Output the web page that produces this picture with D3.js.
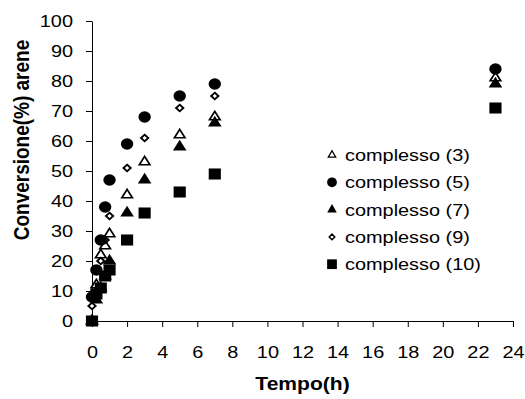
<!DOCTYPE html>
<html>
<head>
<meta charset="utf-8">
<script src="https://cdn.jsdelivr.net/npm/d3@7"></script>
<style>
  body { margin: 0; background: #fff; }
  svg { display: block; font-family: Arial, "Liberation Sans", sans-serif; }
</style>
</head>
<body>
<div id="chart"></div>
<script>
// Data
var times = [0, 0.25, 0.5, 0.75, 1, 2, 3, 5, 7, 23];
var c3  = [0, 12, 22, 25, 29, 42, 53, 62, 68, 81];
var c5  = [8, 17, 27, 38, 47, 59, 68, 75, 79, 84];
var c7  = [0, 7, 11, 15, 20, 36, 47, 58, 66, 79];
var c9  = [5, 10, 20, 27, 35, 51, 61, 71, 75, 84];
var c10 = [0, 9, 11, 15, 17, 27, 36, 43, 49, 71];
var seriesNames = ['complesso (3)', 'complesso (5)', 'complesso (7)', 'complesso (9)', 'complesso (10)'];
var xTicks = [0, 2, 4, 6, 8, 10, 12, 14, 16, 18, 20, 22, 24];
var yTicks = [0, 10, 20, 30, 40, 50, 60, 70, 80, 90, 100];

var width = 525,
    height = 399,
    margin = { left: 92, top: 21, right: 12, bottom: 78 },
    SX = 1.17; // the reference text is a bit stretched sideways

var chartWidth = width - margin.left - margin.right;
var chartHeight = height - margin.top - margin.bottom;

// marker styles per series
var markers = [
    { type: d3.symbolTriangle, size: 40, fill: '#fff', stroke: '#000', sw: 1.6, lsize: 24 },
    { type: d3.symbolCircle, size: 100, fill: '#000', stroke: 'none', sw: 0, lsize: 75 },
    { type: d3.symbolTriangle, size: 66, fill: '#000', stroke: 'none', sw: 0, lsize: 40 },
    { type: d3.symbolDiamond2, size: 28, fill: '#fff', stroke: '#000', sw: 1.8, lsize: 20 },
    { type: d3.symbolSquare, size: 122, fill: '#000', stroke: 'none', sw: 0, lsize: 95 }
];

var allSeries = [c3, c5, c7, c9, c10].map(function(vals, i) {
    return { name: seriesNames[i], m: markers[i], points: vals.map(function(v, j) { return { x: times[j], y: v }; }) };
});

// the diamonds sit underneath the circles in the reference
var drawOrder = [0, 3, 1, 2, 4].map(function(i) { return allSeries[i]; });

var xScale = d3.scaleLinear().domain([0, 24]).range([0, chartWidth]);
var yScale = d3.scaleLinear().domain([0, 100]).range([chartHeight, 0]);

var svg = d3.select('#chart').append('svg')
    .attr('width', width)
    .attr('height', height);

var g = svg.append('g')
    .attr('transform', 'translate(' + margin.left + ',' + margin.top + ')');

// stretch text horizontally around its anchor
function stretch(sel) {
    sel.each(function() {
        var t = d3.select(this);
        var x = +t.attr('x') || 0, y = +t.attr('y') || 0;
        t.attr('x', 0).attr('y', 0)
            .attr('transform', 'translate(' + x + ',' + y + ') scale(' + SX + ',1)');
    });
}

// axes
var xAxis = d3.axisBottom(xScale).tickValues(xTicks).tickSize(6).tickSizeOuter(0).tickPadding(19);
var yAxis = d3.axisLeft(yScale).tickValues(yTicks).tickSize(6).tickSizeOuter(0).tickPadding(13);

var gx = g.append('g')
    .attr('class', 'axis x')
    .attr('transform', 'translate(0,' + chartHeight + ')')
    .call(xAxis);

var gy = g.append('g')
    .attr('class', 'axis y')
    .call(yAxis);

g.selectAll('.axis path, .axis line').attr('stroke', '#000').attr('stroke-width', 1);
g.selectAll('.axis text')
    .attr('fill', '#000')
    .style('font-size', '17px')
    .style('font-family', 'Arial, "Liberation Sans", sans-serif');
stretch(gx.selectAll('text'));
stretch(gy.selectAll('text'));

// axis titles
g.append('text')
    .attr('transform', 'translate(' + (chartWidth / 2) + ',' + (chartHeight + 69) + ') scale(' + SX + ',1)')
    .attr('text-anchor', 'middle')
    .style('font-size', '18px')
    .style('font-weight', 'bold')
    .text('Tempo(h)');

g.append('text')
    .attr('transform', 'translate(' + (29 - margin.left) + ',' + (140 - margin.top) + ') scale(' + SX + ',1) rotate(-90)')
    .attr('text-anchor', 'middle')
    .style('font-size', '19px')
    .style('font-weight', 'bold')
    .text('Conversione(%) arene');

// markers
var seriesG = g.selectAll('.series').data(drawOrder).enter()
    .append('g')
    .attr('class', 'series');

seriesG.selectAll('path')
    .data(function(d) { return d.points.map(function(p) { return { p: p, m: d.m }; }); })
    .enter().append('path')
    .attr('d', function(d) { return d3.symbol().type(d.m.type).size(d.m.size)(); })
    .attr('transform', function(d) { return 'translate(' + xScale(d.p.x) + ',' + yScale(d.p.y) + ') scale(1.1,1)'; })
    .attr('fill', function(d) { return d.m.fill; })
    .attr('stroke', function(d) { return d.m.stroke; })
    .attr('stroke-width', function(d) { return d.m.sw; });

// legend
var legend = svg.append('g')
    .attr('transform', 'translate(332,155)');

var items = legend.selectAll('.item').data(allSeries).enter()
    .append('g')
    .attr('class', 'item')
    .attr('transform', function(d, i) { return 'translate(0,' + (i * 27.3) + ')'; });

items.append('path')
    .attr('d', function(d) { return d3.symbol().type(d.m.type).size(d.m.lsize)(); })
    .attr('fill', function(d) { return d.m.fill; })
    .attr('stroke', function(d) { return d.m.stroke; })
    .attr('stroke-width', function(d) { return d.m.sw * 0.8; });

items.append('text')
    .attr('transform', 'translate(13,6) scale(' + SX + ',1)')
    .style('font-size', '17px')
    .text(function(d) { return d.name; });
</script>
</body>
</html>
